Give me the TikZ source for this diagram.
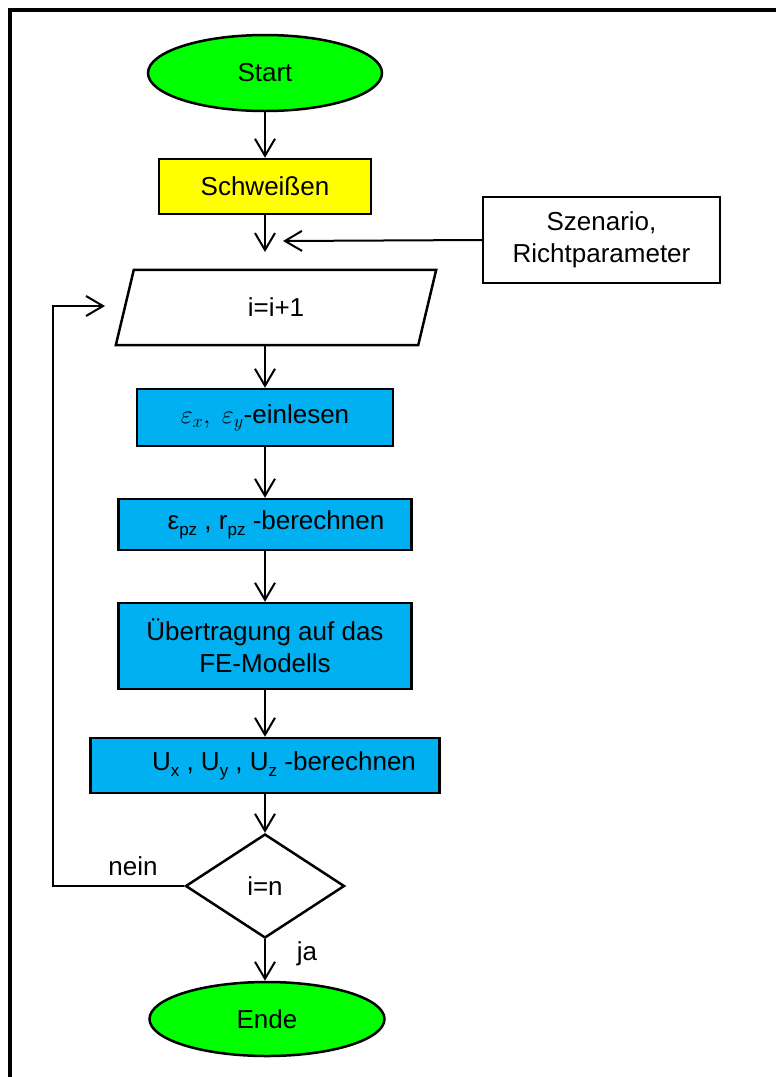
\RequirePackage{fix-cm}
\documentclass[tikz,border=0pt]{standalone}
\usepackage{fontspec}
\setmainfont{Liberation Sans}
\usetikzlibrary{shapes.geometric,arrows.meta}
\definecolor{tgreen}{RGB}{0,255,0}
\definecolor{tyellow}{RGB}{255,255,0}
\definecolor{tblue}{RGB}{0,176,240}
\newcommand{\lowsub}[1]{\raisebox{-0.22em}{\fontsize{17}{17}\selectfont #1}}
\tikzset{
  every node/.style={font=\fontsize{26}{32}\selectfont, inner sep=0pt},
  box/.style={draw, line width=2.5pt, rectangle, align=center},
  term/.style={draw, line width=2.5pt, ellipse, fill=tgreen},
  arr/.style={line width=2pt, -{Straight Barb[length=17pt,width=20pt]}},
  outline/.style={line width=2.5pt, line join=miter}
}
\begin{document}
\begin{tikzpicture}[x=1pt,y=-1pt]
\useasboundingbox (0,0) rectangle (776,1077);
\clip (0,0) rectangle (776,1077);
\fill[white] (0,0) rectangle (776,1077);
\draw[line width=4pt] (10,1200) -- (10,10) -- (900,10);

\node[term, minimum width=234pt, minimum height=76pt] (start) at (265,73) {Start};
\node[box, fill=tyellow, minimum width=212pt, minimum height=55pt] (schw) at (265,186.5) {Schweißen};
\node[box, fill=white, minimum width=237pt, minimum height=86pt] (szen) at (601.5,240) {Szenario,\\Richtparameter};
\node[minimum width=302pt, minimum height=75pt] (para) at (276,307.5) {i=i+1};
\draw[outline] ([xshift=-9pt]para.south west) -- ([xshift=9pt]para.north west)
   -- ([xshift=9pt]para.north east) -- ([xshift=-9pt]para.south east) -- cycle;
\node[box, fill=tblue, minimum width=256pt, minimum height=57pt] (eps) at (265,417.5) {$\varepsilon_x,\ \varepsilon_y$-einlesen};
\node[box, fill=tblue, minimum width=293pt, minimum height=51pt] (epz) at (265,524.5) {\hspace{22pt}ε\lowsub{pz} , r\lowsub{pz} -berechnen};
\node[box, fill=tblue, minimum width=293pt, minimum height=86pt] (ueb) at (265,646) {Übertragung auf das\\FE-Modells};
\node[box, fill=tblue, minimum width=349pt, minimum height=55pt] (ubox) at (265,765.5) {\hspace{38pt}U\lowsub{x} , U\lowsub{y} , U\lowsub{z} -berechnen};
\node[draw, line width=2.5pt, diamond, fill=white, minimum width=159pt, minimum height=104pt] (dia) at (265,886) {i=n};
\node[term, minimum width=235pt, minimum height=74pt] (ende) at (267,1019) {Ende};

\node (nein) at (133,866) {nein};
\node (ja) at (307,954) {ja};

\coordinate (c1) at (265,252);
\coordinate (c2) at (283,241);
\coordinate (c3) at (105,306);

\draw[arr] (start) -- (schw);
\draw[arr] (schw.south) -- (c1);
\draw[arr] (szen.west) -- (c2);
\draw[arr] (para.south -| eps.north) -- (eps.north);
\draw[arr] (eps) -- (epz);
\draw[arr] (epz) -- (ueb);
\draw[arr] (ueb) -- (ubox);
\draw[arr] (ubox) -- (dia);
\draw[arr] (dia.south) -- (dia.south |- ende.north);
\draw[arr] (dia.west) -| (53,600) |- (c3);
\end{tikzpicture}
\end{document}
